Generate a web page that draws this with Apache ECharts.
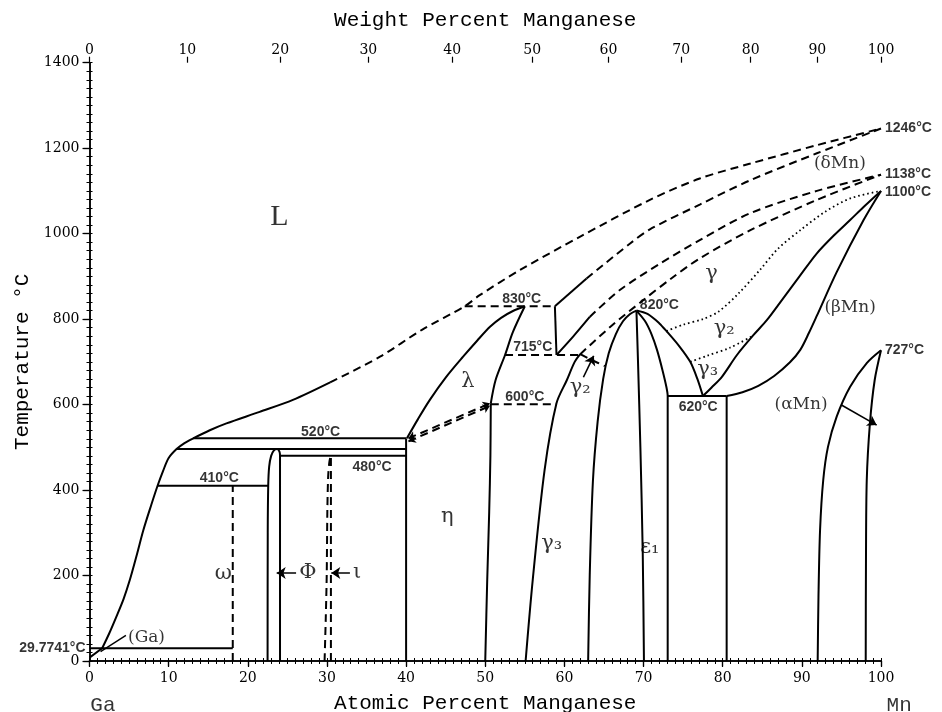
<!DOCTYPE html>
<html><head><meta charset="utf-8">
<script src="https://cdn.jsdelivr.net/npm/echarts@6/dist/echarts.min.js"></script>
<style>html,body{margin:0;padding:0;background:#fff}#c{width:942px;height:712px}</style>
</head><body><div id="c"></div>
<script>
// ---- tick labels ----
const atTicks = [0,10,20,30,40,50,60,70,80,90,100];
const wtTicks = [0,10,20,30,40,50,60,70,80,90,100];
const tempTicks = [0,200,400,600,800,1000,1200,1400];

// ---- phase boundaries [at.% Mn, T °C] ----
const liquidusLow = [[1.6,29.77],[2.5,65],[3.4,104],[4.3,145],[5.1,190],[6.0,250],[6.8,306],[7.8,365],[8.6,410],[9.3,445],[10.0,475],[11.0,496],[12.0,510],[13.1,521],[15.2,540],[17.3,556],[21.5,583],[25.7,611],[30.4,652]];
const liquidusHigh = [[30.4,652],[36.7,712],[42.0,775],[47.4,830],[49.3,856],[54.4,915],[62.0,993],[70.8,1079],[77.1,1129],[83.5,1164],[91.9,1207],[100,1246]];
const gaCorner = [[0,8],[1.6,29.77]];
const eut30 = [[0,29.77],[18.1,29.77]];
const iso410 = [[8.6,410],[22.6,410]];
const iso496 = [[11.0,496],[40,496]];
const iso520 = [[13.1,521],[40,521]];
const iso480 = [[24.07,480],[40,480]];
const omegaLine = [[18.1,0],[18.1,410]];
const phiPhase = [[22.5,0],[22.52,300],[22.58,410],[22.7,455],[22.95,480],[23.3,493],[23.7,496],[24.0,490],[24.07,480],[24.07,0]];
const iotaLeft = [[29.7,0],[29.85,100],[29.97,200],[30.05,350],[30.15,430],[30.3,465],[30.45,478]];
const iotaRight = [[30.5,0],[30.5,478]];
const eta40 = [[40,0],[40,521]];
const etaRight = [[50.0,0],[50.25,190],[50.5,350],[50.65,480],[50.7,603]];
const lambdaLeft = [[40.1,521],[41.5,566],[43.0,611],[45.0,663],[47.2,712],[49.0,750],[50.6,782],[52.0,803],[53.5,819],[55.0,830]];
const lambdaRight = [[55.0,830],[53.5,770],[52.5,716],[51.3,657],[50.7,603]];
const twoPhaseA = [[40.3,521],[50.6,603]];
const twoPhaseB = [[40.3,514],[50.6,597]];
const iso830 = [[47.4,830],[58.8,830]];
const peritectic830 = [[58.8,830],[59.0,716]];
const iso715 = [[52.5,716],[62.0,716]];
const iso600 = [[50.7,601],[59.0,601]];
const deltaSolidus = [[58.8,830],[62.8,895]];
const deltaSolidusDash = [[62.8,895],[68.3,977],[70.8,1010],[77.1,1068],[83.5,1125],[91.9,1188],[100,1246]];
const gammaUpper = [[59.0,716],[61.1,759],[63.2,805]];
const gammaUpperDash = [[63.2,805],[67.0,868],[72.1,930],[77.1,985],[83.5,1048],[91.9,1100],[100,1138]];
const gammaLowerDash = [[62.0,718],[66.0,785],[70.0,845],[73.5,895],[77.1,942],[83.5,1008],[91.9,1079],[100,1138]];
const gamma3Left = [[55.1,0],[56.0,190],[57.5,447],[59.0,603],[60.3,657],[61.3,700],[62.0,718]];
const gamma2Dash = [[62.0,718],[63.5,704],[65.1,690]];
const domeLeft = [[63.0,0],[63.2,200],[63.6,420],[64.2,560],[64.9,660],[65.6,720],[66.5,765],[67.4,795],[68.3,812],[69.1,820]];
const eps70 = [[69.1,820],[69.3,700],[69.6,500],[69.9,250],[70.05,0]];
const eps73 = [[69.1,820],[70.2,795],[71.0,765],[71.7,728],[72.4,680],[72.9,640],[73.05,620],[73.05,0]];
const domeRight = [[69.1,820],[70.5,812],[72.0,790],[72.9,772],[74.5,737],[75.9,700],[76.8,660],[77.5,620]];
const eutectoid620 = [[73.05,620],[80.5,620]];
const v80 = [[80.5,620],[80.5,0]];
const betaLeft = [[77.5,620],[78.6,640],[79.9,665],[81.8,716],[83.9,763],[85.6,798],[87.5,845],[89.7,900],[91.9,954],[94.0,995],[96.1,1032],[98.0,1066],[100,1100]];
const betaRight = [[80.5,620],[82.5,629],[84.5,644],[86.5,667],[88.5,699],[89.8,728],[90.9,768],[91.9,808],[94.4,910],[97.8,1032],[100,1100]];
const gammaDotted = [[72.9,772],[75.0,787],[77.5,800],[79.5,818],[82.0,860],[84.7,915],[87.0,965],[89.8,1008],[93.0,1052],[96.2,1083],[100,1100]];
const gamma23Dotted = [[75.9,700],[78.0,714],[80.9,733],[83.9,762]];
const alphaLeft = [[92.0,0],[92.1,150],[92.3,306],[92.7,423],[93.3,501],[94.4,572],[96.1,642],[98.2,697],[100,727]];
const alphaRight = [[98.07,0],[98.1,229],[98.2,423],[98.6,556],[99.2,657],[100,727]];

// ---- pointer arrows ----
const arrowPhi = [[26.1,206],[23.65,206]];
const arrowIota = [[32.9,206],[30.55,206]];
const arrowGamma2 = [[62.4,664],[63.7,714]];
const arrowAlpha = [[95.0,599],[99.45,552]];

// ---- annotation texts ----
const tempLabels = ['520°C','410°C','480°C','830°C','715°C','600°C','820°C','620°C'];
const endLabels = ['1246°C','1138°C','1100°C','727°C'];
const phaseLabels = ['L','λ','η','γ₃','γ₂','ε₁','ω','Φ','ι','γ','γ₂','γ₃','(δMn)','(βMn)','(αMn)','(Ga)'];

// helpers
function wtToAt(w){const a=w/54.938,b=(100-w)/69.723;return 100*a/(a+b);}
const wtPos = wtTicks.map(wtToAt);
const BLACK='#000';
const series=[];
function curve(data,style,smooth){
  const ls={color:BLACK,width:2};
  if(style==='dashed'){ls.type=[8,5];}
  if(style==='dotted'){ls.type=[1.6,3];ls.width=1.8;}
  series.push({type:'line',data:data,symbol:'none',smooth:smooth?0.3:false,lineStyle:ls,silent:true,animation:false,clip:false,z:3});
}
curve(liquidusLow,'solid',true);
curve(liquidusHigh,'dashed',true);
curve(gaCorner,'solid');
curve(eut30,'solid');
curve(iso410,'solid');
curve(iso496,'solid');
curve(iso520,'solid');
curve(iso480,'solid');
curve(omegaLine,'dashed');
curve(phiPhase,'solid',true);
curve(iotaLeft,'dashed',true);
curve(iotaRight,'dashed');
curve(eta40,'solid');
curve(etaRight,'solid',true);
curve(lambdaLeft,'solid',true);
curve(lambdaRight,'solid',true);
curve(iso830,'dashed');
curve(peritectic830,'solid');
curve(iso715,'dashed');
curve(iso600,'dashed');
curve(deltaSolidus,'solid');
curve(deltaSolidusDash,'dashed',true);
curve(gammaUpper,'solid',true);
curve(gammaUpperDash,'dashed',true);
curve(gammaLowerDash,'dashed',true);
curve(gamma3Left,'solid',true);
curve(gamma2Dash,'dashed',true);
curve(domeLeft,'solid',true);
curve(eps70,'solid',true);
curve(eps73,'solid',true);
curve(domeRight,'solid',true);
curve(eutectoid620,'solid');
curve(v80,'solid');
curve(betaLeft,'solid',true);
curve(betaRight,'solid',true);
curve(gammaDotted,'dotted',true);
curve(gamma23Dotted,'dotted',true);
curve(alphaLeft,'solid',true);
curve(alphaRight,'solid',true);

series.push({type:'lines',coordinateSystem:'cartesian2d',silent:true,animation:false,z:4,
  symbol:['none','arrow'],symbolSize:9,
  lineStyle:{color:BLACK,width:1.6,type:'solid',opacity:1},
  data:[arrowPhi,arrowIota,arrowGamma2,arrowAlpha].map(c=>({coords:c}))});
// double-headed dashed tie lines (λ + η)
series.push({type:'lines',coordinateSystem:'cartesian2d',silent:true,animation:false,z:4,
  symbol:['arrow','arrow'],symbolSize:7,
  lineStyle:{color:BLACK,width:2,type:[8,5],opacity:1},
  data:[twoPhaseA,twoPhaseB].map(c=>({coords:c}))});

// annotation placement
const numFont={fontFamily:'Liberation Sans',fontWeight:'bold',fontSize:14,color:BLACK};
const greekFont={fontFamily:'DejaVu Serif',fontSize:21,color:BLACK};
const phaseFont={fontFamily:'DejaVu Serif',fontSize:17,color:BLACK};
const tempPos=[[29.2,536],[16.4,428],[35.7,454],[54.6,847],[56.0,735],[55.0,618],[72.0,832],[76.9,594]];
const endPos=[[100,1246],[100,1140],[100,1098],[100,727]];
const phasePos=[[24.0,1039,'L'],[47.8,653,'g'],[45.2,338,'g'],[58.4,275,'g'],[62.0,641,'g'],[70.8,266,'g'],[16.9,205,'g'],[27.6,206,'g'],[33.8,206,'g'],[78.6,907,'g'],[80.2,779,'g'],[78.1,681,'g'],[94.8,1165,'p'],[96.1,826,'p'],[89.9,599,'p'],[7.2,55,'p']];
const ann=[];
tempLabels.forEach((t,i)=>ann.push({value:tempPos[i],label:Object.assign({show:true,position:'inside',formatter:t},numFont)}));
endLabels.forEach((t,i)=>ann.push({value:endPos[i],label:Object.assign({show:true,position:'right',distance:4,formatter:t},numFont)}));
phaseLabels.forEach((t,i)=>{const p=phasePos[i];const f=p[2]==='L'?{fontFamily:'Liberation Serif',fontSize:30,color:BLACK}:(p[2]==='g'?greekFont:phaseFont);
  ann.push({value:[p[0],p[1]],label:Object.assign({show:true,position:'inside',formatter:t},f)});});
ann.push({value:[0,29.77],label:Object.assign({show:true,position:'left',distance:4,formatter:'29.7741°C'},numFont)});
ann.push({value:[1.7,-103],label:{show:true,position:'inside',formatter:'Ga',fontFamily:'Liberation Mono',fontSize:21,color:BLACK}});
ann.push({value:[102.3,-103],label:{show:true,position:'inside',formatter:'Mn',fontFamily:'Liberation Mono',fontSize:21,color:BLACK}});
series.push({type:'scatter',data:ann,symbolSize:0,silent:true,animation:false,clip:false,z:5});
// (Ga) leader
series.push({type:'line',data:[[1.4,22],[4.6,60]],symbol:'none',lineStyle:{color:BLACK,width:1.4},silent:true,animation:false,clip:false});

const tickFont={fontFamily:'DejaVu Serif',fontSize:14,color:BLACK};
const axLine={show:true,lineStyle:{color:BLACK,width:1.5}};
const noLine={show:false};
const option={
  animation:false,
  backgroundColor:'#fff',
  grid:{left:89.5,right:61,top:62.7,bottom:51,containLabel:false,outerBoundsMode:'none'},
  xAxis:[
    {type:'value',position:'bottom',min:0,max:100,interval:10,axisLine:axLine,
     axisTick:{show:true,length:5,lineStyle:{color:BLACK,width:1.2}},
     axisLabel:Object.assign({margin:10,formatter:v=>atTicks.includes(v)?String(v):''},tickFont),splitLine:{show:false},
     name:'Atomic Percent Manganese',nameLocation:'middle',nameGap:32,
     nameTextStyle:{fontFamily:'Liberation Mono',fontSize:21,color:BLACK}},
    {type:'value',position:'bottom',min:0,max:100,interval:1,axisLine:noLine,
     axisTick:{show:true,inside:true,length:3,lineStyle:{color:BLACK,width:1}},axisLabel:{show:false},splitLine:{show:false}},
    {type:'value',position:'top',min:0,max:100,interval:1,axisLine:axLine,
     axisTick:{show:true,inside:true,length:3,lineStyle:{color:BLACK,width:1}},axisLabel:{show:false},splitLine:{show:false}},
    {type:'value',position:'top',min:0,max:100,interval:10,axisLine:noLine,
     axisTick:{show:true,inside:true,length:6,lineStyle:{color:BLACK,width:1.2}},axisLabel:{show:false},splitLine:{show:false}},
    {type:'value',position:'top',min:0,max:100,axisLine:noLine,
     axisTick:{show:true,length:6,customValues:wtPos,lineStyle:{color:BLACK,width:1.2}},
     axisLabel:Object.assign({margin:5,customValues:wtPos,formatter:v=>{let b=0,d=1e9;wtPos.forEach((p,i)=>{if(Math.abs(p-v)<d){d=Math.abs(p-v);b=i;}});return String(wtTicks[b]);}},tickFont),
     splitLine:{show:false},
     name:'Weight Percent Manganese',nameLocation:'middle',nameGap:32,
     nameTextStyle:{fontFamily:'Liberation Mono',fontSize:21,color:BLACK}}
  ],
  yAxis:[
    {type:'value',position:'left',min:0,max:1400,interval:200,axisLine:axLine,
     axisTick:{show:true,length:6,lineStyle:{color:BLACK,width:1.2}},
     axisLabel:Object.assign({margin:10,formatter:v=>tempTicks.includes(v)?String(v):''},tickFont),splitLine:{show:false},
     name:'Temperature °C',nameLocation:'middle',nameGap:57,
     nameTextStyle:{fontFamily:'Liberation Mono',fontSize:21,color:BLACK}},
    {type:'value',position:'left',min:0,max:1400,interval:20,axisLine:noLine,
     axisTick:{show:true,inside:true,length:3,lineStyle:{color:BLACK,width:1}},axisLabel:{show:false},splitLine:{show:false}},
    {type:'value',position:'right',min:0,max:1400,interval:20,axisLine:axLine,
     axisTick:{show:true,inside:true,length:3,lineStyle:{color:BLACK,width:1}},axisLabel:{show:false},splitLine:{show:false}},
    {type:'value',position:'right',min:0,max:1400,interval:200,axisLine:noLine,
     axisTick:{show:true,inside:true,length:7,lineStyle:{color:BLACK,width:1.2}},axisLabel:{show:false},splitLine:{show:false}}
  ],
  series:series
};
const chart=echarts.init(document.getElementById('c'),null,{renderer:'canvas'});
chart.setOption(option);
</script></body></html>
